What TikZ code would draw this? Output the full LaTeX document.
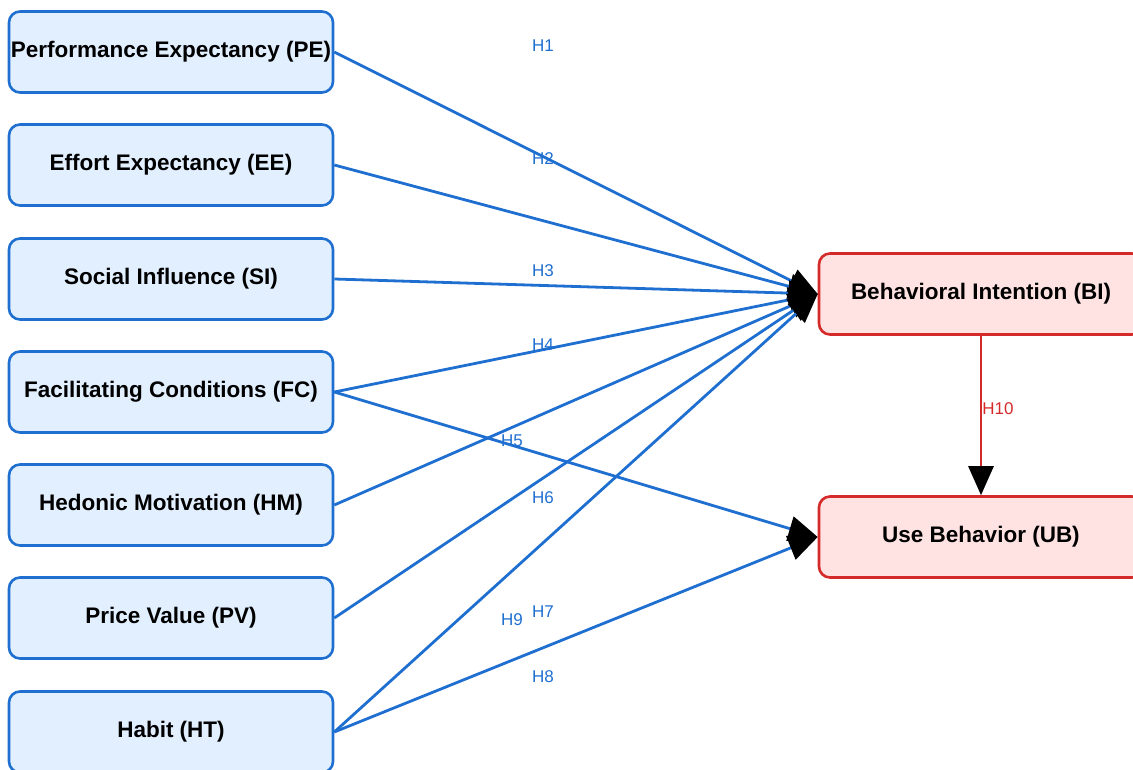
\documentclass[tikz,border=0pt]{standalone}
\usepackage{fontspec}
\setmainfont{Liberation Sans}
\usetikzlibrary{arrows.meta}
\definecolor{bblue}{HTML}{1F6FD0}
\definecolor{bfill}{HTML}{E2EFFF}
\definecolor{rred}{HTML}{D42A2A}
\definecolor{rfill}{HTML}{FFE3E3}
\tikzset{
  cbox/.style={draw=bblue, fill=bfill, line width=2.6pt, rounded corners=11pt,
    minimum width=324pt, minimum height=81pt, inner sep=0pt,
    font=\fontsize{22.5}{25}\selectfont\bfseries},
  obox/.style={cbox, draw=rred, fill=rfill},
  link/.style={draw=bblue, line width=2.8pt, -{Triangle[length=29pt,width=25pt,color=black]}},
  rlink/.style={draw=rred, line width=2.8pt, -{Triangle[length=29pt,width=25pt,color=black]}},
  hlab/.style={text=bblue, font=\fontsize{17}{19}\selectfont, inner sep=0pt},
  rlab/.style={hlab, text=rred}
}
\begin{document}
\begin{tikzpicture}[x=1pt,y=-1pt]
\useasboundingbox (0,0) rectangle (1133,770);
\begin{scope}
\clip (0,0) rectangle (1133,770);
\node[cbox] (PE) at (171,52) {Performance Expectancy (PE)};
\node[cbox] (EE) at (171,165) {Effort Expectancy (EE)};
\node[cbox] (SI) at (171,279) {Social Influence (SI)};
\node[cbox] (FC) at (171,392) {Facilitating Conditions (FC)};
\node[cbox] (HM) at (171,505) {Hedonic Motivation (HM)};
\node[cbox] (PV) at (171,618) {Price Value (PV)};
\node[cbox] (HT) at (171,732) {Habit (HT)};
\node[obox] (BI) at (981,294) {Behavioral Intention (BI)};
\node[obox] (UB) at (981,537) {Use Behavior (UB)};

\draw[link] (PE.east) -- (BI.west);
\draw[link] (EE.east) -- (BI.west);
\draw[link] (SI.east) -- (BI.west);
\draw[link] (FC.east) -- (BI.west);
\draw[link] (HM.east) -- (BI.west);
\draw[link] (PV.east) -- (BI.west);
\draw[link] (HT.east) -- (BI.west);
\draw[link] (FC.east) -- (UB.west);
\draw[link] (HT.east) -- (UB.west);
\draw[rlink] (BI.south) -- (UB.north);

\node[hlab] (h1) at (543,46) {H1};
\node[hlab] (h2) at (543,159) {H2};
\node[hlab] (h3) at (543,271) {H3};
\node[hlab] (h4) at (543,345) {H4};
\node[hlab] (h5) at (512,441) {H5};
\node[hlab] (h6) at (543,498) {H6};
\node[hlab] (h7) at (543,612) {H7};
\node[hlab] (h9) at (512,620) {H9};
\node[hlab] (h8) at (543,677) {H8};
\node[rlab] (h10) at (998,409) {H10};
\end{scope}
\end{tikzpicture}
\end{document}
